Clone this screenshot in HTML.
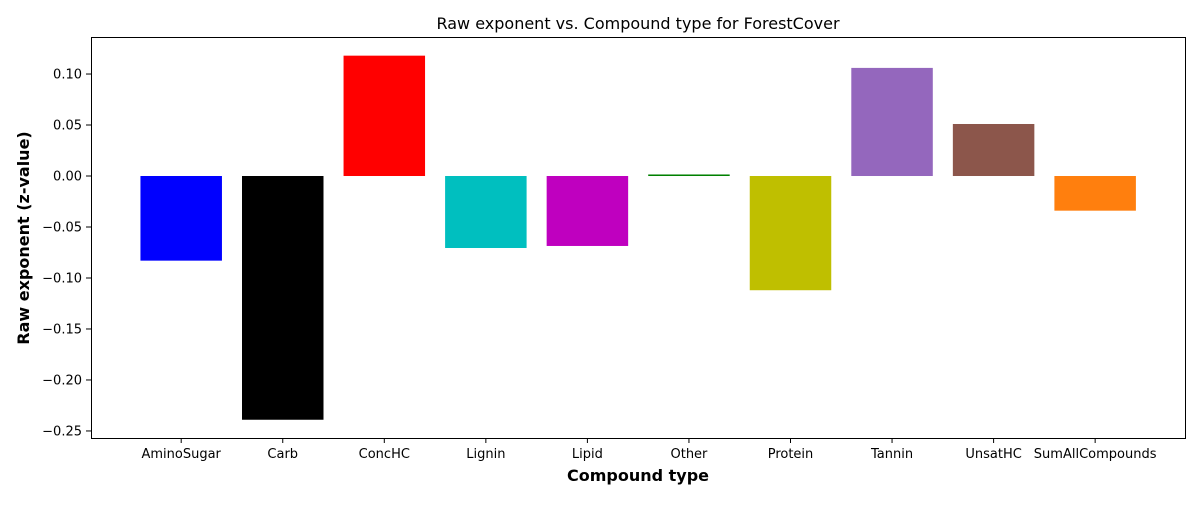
<!DOCTYPE html>
<html><head><meta charset="utf-8"><style>
body{margin:0;background:#fff;}
svg text{font-family:"DejaVu Sans","Liberation Sans",sans-serif;fill:#000;}
</style></head><body>
<svg id="chart" width="1200" height="500" xmlns="http://www.w3.org/2000/svg">
<text x="638" y="29" font-size="16" text-anchor="middle">Raw exponent vs. Compound type for ForestCover</text>
<g id="marks"></g>
<rect x="91.5" y="37.5" width="1094" height="401" fill="none" stroke="#000" stroke-width="1"/>
<text x="638" y="481" font-size="16" font-weight="bold" text-anchor="middle">Compound type</text>
<text transform="translate(29,238) rotate(-90)" font-size="16" font-weight="bold" text-anchor="middle">Raw exponent (z-value)</text>
</svg>
<script>
const categories=["AminoSugar","Carb","ConcHC","Lignin","Lipid","Other","Protein","Tannin","UnsatHC","SumAllCompounds"];
const values=[-0.083,-0.239,0.118,-0.0706,-0.0686,0.0015,-0.112,0.106,0.051,-0.034];
const colors=["#0000ff","#000000","#ff0000","#00bfbf","#bf00bf","#008000","#bfbf00","#9467bd","#8c564b","#ff7f0e"];
const yTicks=[0.10,0.05,0.00,-0.05,-0.10,-0.15,-0.20,-0.25];
const tickLabels=["0.10","0.05","0.00","\u22120.05","\u22120.10","\u22120.15","\u22120.20","\u22120.25"];
const NS="http://www.w3.org/2000/svg";
const x0=91,x1=1185,yTop=37,yBot=438,yMax=0.1363,yMin=-0.2569;
function y(v){return yTop+(yMax-v)/(yMax-yMin)*(yBot-yTop);}
const step=101.55,first=181.2,bw=81.5;
function x(i){return first+i*step;}
const g=document.getElementById('marks');
values.forEach((v,i)=>{
 const r=document.createElementNS(NS,'rect');
 
 
 const a=y(Math.max(v,0)),b=y(Math.min(v,0));
 r.setAttribute('x',x(i)-bw/2);r.setAttribute('y',a);
 r.setAttribute('width',bw);r.setAttribute('height',Math.max(b-a,1.5));
 r.setAttribute('fill',colors[i]);g.appendChild(r);
 const t=document.createElementNS(NS,'line');
 
 
 t.setAttribute('x1',x(i));t.setAttribute('x2',x(i));t.setAttribute('y1',438);t.setAttribute('y2',443);t.setAttribute('stroke','#000');g.appendChild(t);
 const l=document.createElementNS(NS,'text');
 
 
 l.setAttribute('x',x(i));l.setAttribute('y',458);l.setAttribute('font-size','13');l.setAttribute('text-anchor','middle');l.textContent=categories[i];g.appendChild(l);
});
yTicks.forEach((v,i)=>{
 const t=document.createElementNS(NS,'line');
 
 
 t.setAttribute('x1',86);t.setAttribute('x2',91);t.setAttribute('y1',y(v));t.setAttribute('y2',y(v));t.setAttribute('stroke','#000');g.appendChild(t);
 const l=document.createElementNS(NS,'text');
 
 
 l.setAttribute('x',82);l.setAttribute('y',y(v)+4.5);l.setAttribute('font-size','13');l.setAttribute('text-anchor','end');l.textContent=tickLabels[i];g.appendChild(l);
});
</script>
</body></html>
